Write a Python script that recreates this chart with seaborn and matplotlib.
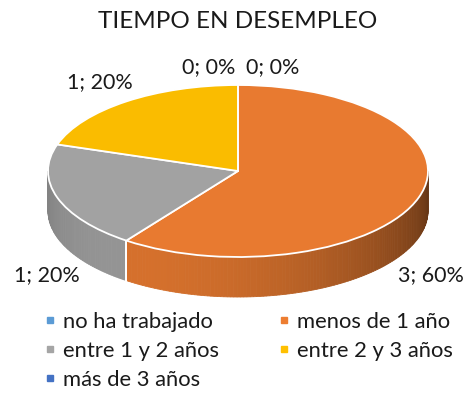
import numpy as np
import matplotlib
matplotlib.use("Agg")
import matplotlib.pyplot as plt
from matplotlib.patches import Polygon
from matplotlib.lines import Line2D
from matplotlib.colors import to_rgb
import seaborn as sns

# data
categories = ["no ha trabajado", "menos de 1 año", "entre 1 y 2 años",
              "entre 2 y 3 años", "más de 3 años"]
counts = [0, 3, 1, 1, 0]
colors = ["#5B9BD5", "#ED7D31", "#A5A5A5", "#FFC000", "#4472C4"]
title = "TIEMPO EN DESEMPLEO"

# label positions (pixels from top-left), same order as categories
label_pos = [(273, 67), (431, 275), (47, 275), (100, 82), (209, 67)]

sns.set_theme(style="white")
plt.rcParams["font.family"] = ["Lato", "DejaVu Sans"]

W, H = 474, 394
cx, cy = 238, 171      # centre of the top ellipse
a, b = 190, 86         # semi axes
depth = 40             # thickness of the disc

fig = plt.figure(figsize=(W / 100, H / 100), dpi=100)
ax = fig.add_axes([0, 0, 1, 1])

top_colors = [tuple(np.array(to_rgb(c)) * 0.98) for c in colors]
wedges, _ = ax.pie(counts, colors=top_colors, startangle=90, counterclock=False,
                   wedgeprops=dict(edgecolor="white", linewidth=1.3, zorder=3))
ax.set_aspect("auto")
ax.set_xlim(-cx / a, (W - cx) / a)
ax.set_ylim(-(H - cy) / b, cy / b)
ax.axis("off")


def shade(t):
    return 0.6 + 0.3 * np.cos(np.radians(t - 235))


# side walls, only the front half (180..360 deg) is visible
d = depth / b
for w, c in zip(wedges, colors):
    rgb = np.array(to_rgb(c))
    for shift in (-360, 0, 360):
        lo = max(w.theta1 + shift, 180)
        hi = min(w.theta2 + shift, 360)
        if hi <= lo:
            continue
        ts = np.linspace(lo, hi, int(hi - lo) + 2)
        for t0, t1 in zip(ts[:-1], ts[1:]):
            r0, r1 = np.radians(t0), np.radians(t1)
            pts = [(np.cos(r0), np.sin(r0)), (np.cos(r1), np.sin(r1)),
                   (np.cos(r1), np.sin(r1) - d), (np.cos(r0), np.sin(r0) - d)]
            col = np.clip(rgb * shade((t0 + t1) / 2), 0, 1)
            ax.add_patch(Polygon(pts, closed=True, facecolor=col, edgecolor=col,
                                 linewidth=0.6, zorder=1))
        # white seam where two slices meet on the wall
        for t in (lo, hi):
            if 180 < t < 360:
                r = np.radians(t)
                ax.plot([np.cos(r), np.cos(r)], [np.sin(r), np.sin(r) - d],
                        color="white", lw=1.3, zorder=2)

# data labels
total = sum(counts)
for n, (px, py) in zip(counts, label_pos):
    fig.text(px / W, 1 - py / H, f"{n}; {round(100 * n / total)}%",
             ha="center", va="center", fontsize=15.5, color="#1a1a1a")

fig.text(238 / W, 1 - 22 / H, title, ha="center", va="center",
         fontsize=17.5, color="#1a1a1a")

# legend, filled row by row like the original
order = [0, 2, 4, 1, 3]
handles = [Line2D([], [], marker="s", linestyle="none", markersize=5,
                  markerfacecolor=colors[i], markeredgecolor=colors[i]) for i in order]
fig.legend(handles, [categories[i] for i in order], loc="upper left",
           bbox_to_anchor=(44.5 / W, 1 - 311.5 / H), ncol=2, frameon=False,
           fontsize=15.8, handlelength=0.5, handletextpad=0.34,
           columnspacing=2.72, labelspacing=0.42, borderpad=0, borderaxespad=0,
           labelcolor="#1a1a1a")

fig.savefig("out.png", dpi=100)
